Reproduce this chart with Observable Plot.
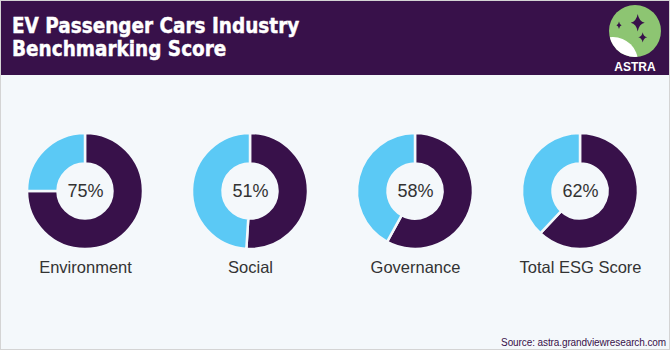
<!DOCTYPE html>
<html><head><meta charset="utf-8">
<script src="https://cdn.jsdelivr.net/npm/d3@7"></script>
<script src="https://cdn.jsdelivr.net/npm/@observablehq/plot@0.6"></script>
<style>
html,body{margin:0;padding:0;background:#fff;}
#wrap{position:relative;width:670px;height:350px;box-sizing:border-box;border:1px solid #d4d4d4;background:#f4f8fb;overflow:hidden;font-family:"Liberation Sans",Arial,sans-serif;}
#header{position:absolute;left:0;top:0;width:668px;height:74px;background:#38114a;}
#title{position:absolute;left:11px;top:14px;color:#fff;font-family:"Liberation Sans Narrow","DejaVu Sans Condensed",sans-serif;font-weight:bold;font-size:20.5px;line-height:22.5px;-webkit-text-stroke:0.4px #fff;}
#logo{position:absolute;left:-1px;top:-1px;}
#chart{position:absolute;left:0;top:75px;}
#source{position:absolute;right:3px;top:337px;font-size:10px;line-height:10px;color:#38114a;letter-spacing:-0.1px;white-space:nowrap;}
</style></head>
<body>
<div id="wrap">
  <div id="header">
    <div id="title">EV Passenger Cars Industry<br>Benchmarking Score</div>
  </div>
  <svg id="logo" width="670" height="76" xmlns="http://www.w3.org/2000/svg">
    <defs><clipPath id="lc"><circle cx="635" cy="31" r="26"/></clipPath></defs>
    <circle cx="635" cy="31" r="26" fill="#8dc572"/>
    <circle cx="613" cy="62" r="25" fill="#ffffff" clip-path="url(#lc)"/>
    <path fill="#38114a" d="M637.7,14 Q639,21.4 644.7,22.7 Q639,24 637.7,31.4 Q636.4,24 630.7,22.7 Q636.4,21.4 637.7,14 Z"/>
    <path fill="#38114a" d="M619,21.6 Q619.5,24.8 621.6,25.3 Q619.5,25.8 619,29 Q618.5,25.8 616.4,25.3 Q618.5,24.8 619,21.6 Z"/>
    <path fill="#38114a" d="M642.7,32.2 Q643.5,36.5 647.2,37.3 Q643.5,38.1 642.7,42.4 Q641.9,38.1 638.2,37.3 Q641.9,36.5 642.7,32.2 Z"/>
    <text x="635" y="71" text-anchor="middle" fill="#fff" font-family="Liberation Sans, Arial, sans-serif" font-weight="bold" font-size="12">ASTRA</text>
  </svg>
  <div id="chart"></div>
  <div id="source">Source: astra.grandviewresearch.com</div>
</div>
<script>
const categories = ["Environment", "Social", "Governance", "Total ESG Score"];
const scores = [75, 51, 58, 62];

const purple = "#38114a", blue = "#5bc9f5", bg = "#f4f8fb";
const data = categories.map((name, i) => ({name, score: scores[i]}));

const chart = Plot.plot({
  width: 668, height: 258,
  marginTop: 0, marginBottom: 28, marginLeft: 1, marginRight: 7,
  style: {background: "transparent", fontFamily: "Liberation Sans, Arial, sans-serif", overflow: "visible"},
  x: {type: "point", domain: categories, padding: 0.5, axis: null},
  marks: [
    Plot.dot(data, {
      x: "name", r: 0,
      render: (index, scales, values, dimensions) => {
        const g = d3.create("svg:g");
        const cy = dimensions.marginTop + (dimensions.height - dimensions.marginTop - dimensions.marginBottom) / 2;
        const arc = d3.arc().innerRadius(27.5).outerRadius(58);
        const pie = d3.pie().sort(null).value(s => s.v);
        for (const i of index) {
          const d = data[i];
          const cx = values.x[i];
          const slices = pie([{v: d.score, c: purple}, {v: 100 - d.score, c: blue}]);
          g.append("g")
            .attr("transform", `translate(${cx},${cy})`)
            .selectAll("path").data(slices).join("path")
            .attr("d", arc)
            .attr("fill", s => s.data.c)
            .attr("stroke", bg)
            .attr("stroke-width", 2.5);
        }
        return g.node();
      }
    }),
    Plot.text(data, {x: "name", frameAnchor: "middle", text: d => d.score + "%", fontSize: 18, fill: "#333"}),
    Plot.text(data, {x: "name", frameAnchor: "middle", dy: 76, text: "name", fontSize: 16.5, fill: "#333"})
  ]
});
document.getElementById("chart").appendChild(chart);
</script>
</body></html>
